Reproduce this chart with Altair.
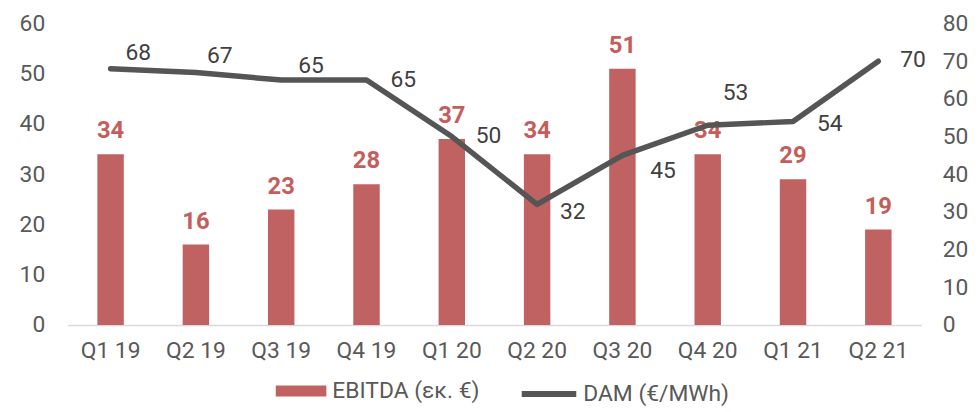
import altair as alt
import pandas as pd

quarters = ["Q1 19", "Q2 19", "Q3 19", "Q4 19", "Q1 20", "Q2 20", "Q3 20", "Q4 20", "Q1 21", "Q2 21"]
ebitda = [34, 16, 23, 28, 37, 34, 51, 34, 29, 19]
dam = [68, 67, 65, 65, 50, 32, 45, 53, 54, 70]

# label placement for the DAM values (pixel offsets, styling only)
label_dx = [28, 24, 30, 37, 37, 36, 41, 28, 37, 35]
label_dy = [-16, -17, -14, 0, -1, 8, 16, -32, 3, -1]

BAR = "#BF6261"
BAR_TXT = "#C55D5C"
LINE = "#555555"
GREY = "#595959"
FONT = "Roboto"
FS = 23

df = pd.DataFrame({"q": quarters, "ebitda": ebitda, "dam": dam})

x = alt.X("q:N", sort=quarters, title=None,
          scale=alt.Scale(paddingInner=0.69, paddingOuter=0.35),
          axis=alt.Axis(labelAngle=0, labelFontSize=FS, labelColor=GREY, labelFont=FONT,
                        ticks=False, domainColor="#D9D9D9", domainWidth=1.5, labelPadding=15))

yl = alt.Y("ebitda:Q", title=None, scale=alt.Scale(domain=[0, 60]),
           axis=alt.Axis(values=list(range(0, 61, 10)), grid=False, domain=False, ticks=False,
                         labelFontSize=FS, labelColor=GREY, labelFont=FONT, labelPadding=23))
yr = alt.Y("dam:Q", title=None, scale=alt.Scale(domain=[0, 80]),
           axis=alt.Axis(orient="right", values=list(range(0, 81, 10)), grid=False, domain=False,
                         ticks=False, labelFontSize=FS, labelColor=GREY, labelFont=FONT,
                         labelPadding=21))

base = alt.Chart(df).transform_calculate(s1="'EBITDA (εκ. €)'", s2="'DAM (€/MWh)'")

bars = base.mark_bar(color=BAR).encode(
    x=x, y=yl,
    color=alt.Color("s1:N", title=None,
                    scale=alt.Scale(domain=["EBITDA (εκ. €)"], range=[BAR]),
                    legend=alt.Legend(orient="none", legendX=210, legendY=345,
                                      symbolType="M-1,-0.22H1V0.22H-1Z", symbolSize=2601,
                                      symbolStrokeWidth=0, labelFontSize=FS, labelColor=GREY,
                                      labelFont=FONT, labelOffset=6)))
bar_txt = base.mark_text(color=BAR_TXT, fontWeight="bold", fontSize=FS + 1, font=FONT,
                         baseline="alphabetic", dy=-16).encode(x=x, y=yl, text="ebitda:Q")
left = alt.layer(bars, bar_txt)

line = base.mark_line(strokeWidth=5.5, strokeCap="round", strokeJoin="round").encode(
    x=x, y=yr,
    stroke=alt.Stroke("s2:N", title=None,
                      scale=alt.Scale(domain=["DAM (€/MWh)"], range=[LINE]),
                      legend=alt.Legend(orient="none", legendX=455, legendY=343,
                                        symbolType="stroke", symbolSize=3025,
                                        symbolStrokeWidth=6, labelFontSize=FS, labelColor=GREY,
                                        labelFont=FONT, labelOffset=4)))
line_txts = []
for q, dx, dy in zip(quarters, label_dx, label_dy):
    line_txts.append(
        base.transform_filter(alt.datum.q == q).mark_text(
            color="#404040", fontSize=FS, font=FONT, dx=dx, dy=dy, align="center",
            baseline="middle").encode(x=x, y=yr, text="dam:Q"))
right = alt.layer(line, *line_txts)

chart = alt.layer(left, right).resolve_scale(y="independent").properties(
    width=861, height=304,
    autosize=alt.AutoSizeParams(type="none"),
    padding={"left": 60, "top": 14, "right": 50, "bottom": 80},
).configure_view(stroke=None)

chart.save("out.html", embed_options={"renderer": "svg", "actions": False})
